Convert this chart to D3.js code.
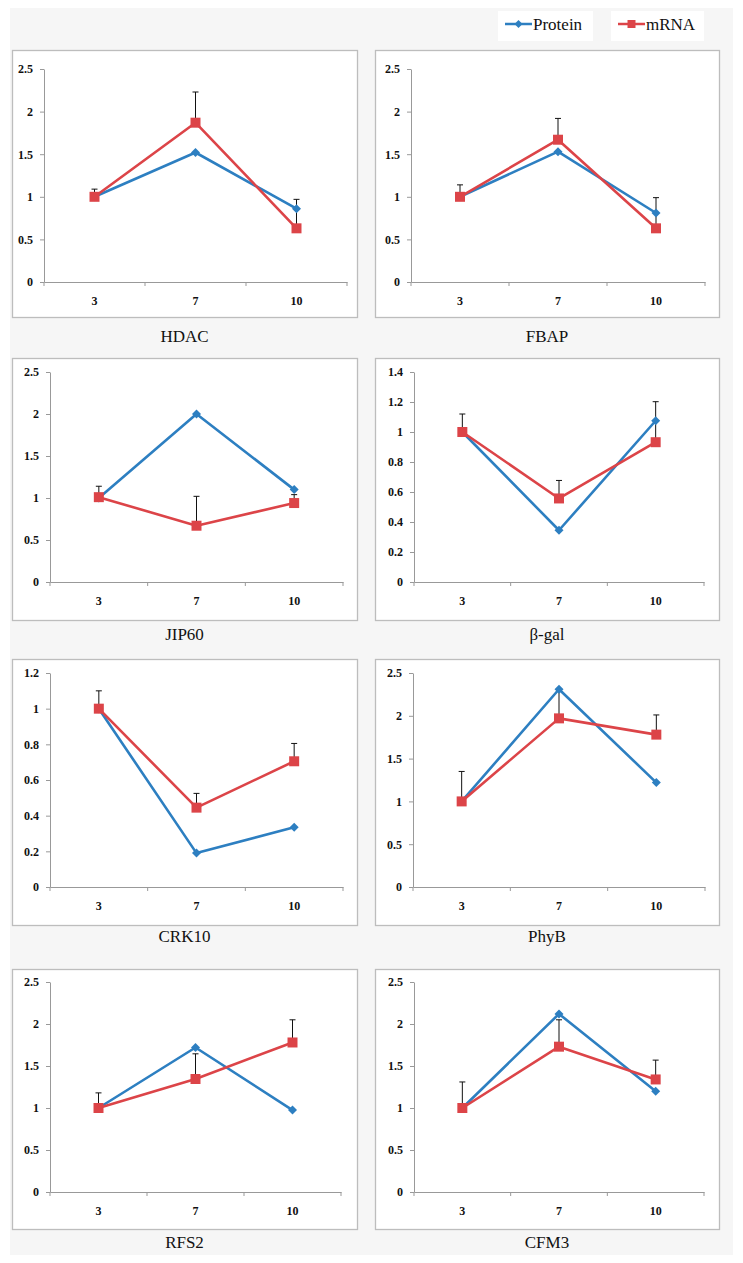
<!DOCTYPE html>
<html><head><meta charset="utf-8">
<script src="https://cdn.jsdelivr.net/npm/d3@7"></script>
<style>
html,body{margin:0;padding:0;background:#fff;}
svg{display:block;}
svg text{font-family:"Liberation Serif","Times New Roman",serif;}
</style></head>
<body>
<script>
// ---- data ----
const days = ["3", "7", "10"];
const genes = ["HDAC", "FBAP", "JIP60", "β-gal", "CRK10", "PhyB", "RFS2", "CFM3"];
const yMax = [2.5, 2.5, 2.5, 1.4, 1.2, 2.5, 2.5, 2.5];
const yStep = [0.5, 0.5, 0.5, 0.2, 0.2, 0.5, 0.5, 0.5];
const protein = [
  [1, 1.52, 0.86],
  [1, 1.53, 0.81],
  [1, 2.0, 1.10],
  [1, 0.345, 1.075],
  [1, 0.19, 0.335],
  [1, 2.31, 1.22],
  [1, 1.72, 0.975],
  [1, 2.12, 1.20]
];
const mrna = [
  [1, 1.87, 0.63],
  [1, 1.67, 0.63],
  [1.01, 0.67, 0.94],
  [1, 0.557, 0.932],
  [1, 0.445, 0.705],
  [1, 1.97, 1.78],
  [1, 1.345, 1.78],
  [1, 1.73, 1.34]
];
const mrnaErr = [
  [0.09, 0.36, 0.34],
  [0.14, 0.25, 0.36],
  [0.13, 0.35, 0.10],
  [0.12, 0.12, 0.27],
  [0.10, 0.08, 0.10],
  [0.35, 0.32, 0.23],
  [0.18, 0.30, 0.27],
  [0.31, 0.32, 0.23]
];
const seriesNames = ["Protein", "mRNA"];

// ---- layout ----
const W = 743, H = 1263;
const colPanelX0 = [12, 375], colPanelX1 = [357, 719];
const rowPanelY0 = [50, 358, 659, 969], rowPanelY1 = [317, 620, 925, 1229];
const rowPlotTop = [69, 372, 673, 982], rowZero = [282, 582, 887, 1192];
const rowTitleY = [337, 635, 937, 1243];
const axisX = [[44, 411], [50, 414], [50, 413], [50, 414]];
const axisXEnd = [[347, 705], [343, 704], [343, 705], [341, 704]];
const blue = "#2d7fc1", red = "#dc4448";
const serif = '"Liberation Serif","Times New Roman",serif';

const svg = d3.select("body").append("svg").attr("width", W).attr("height", H);
svg.append("rect").attr("x", 10).attr("y", 8).attr("width", 723).attr("height", 1247).attr("fill", "#f6f6f6");

const diamond = s => `M0,${-s}L${s},0L0,${s}L${-s},0Z`;

// legend
const legend = [
  {name: seriesNames[0], color: blue, x: 498, w: 95, mark: diamond(4)},
  {name: seriesNames[1], color: red, x: 611, w: 93, mark: d3.symbol(d3.symbolSquare, 64)()}
];
legend.forEach(l => {
  const g = svg.append("g").attr("transform", `translate(${l.x},11)`);
  g.append("rect").attr("width", l.w).attr("height", 30).attr("fill", "#fff");
  g.append("line").attr("x1", 7).attr("x2", 34).attr("y1", 13).attr("y2", 13)
    .attr("stroke", l.color).attr("stroke-width", 2.5);
  g.append("path").attr("d", l.mark).attr("transform", "translate(20.5,13)").attr("fill", l.color);
  g.append("text").attr("x", 35).attr("y", 19).text(l.name)
    .style("font-family", serif).attr("font-size", 17).attr("fill", "#111");
});

genes.forEach((gene, i) => {
  const row = Math.floor(i / 2), col = i % 2;
  const px0 = colPanelX0[col], px1 = colPanelX1[col];
  const py0 = rowPanelY0[row], py1 = rowPanelY1[row];
  svg.append("rect").attr("x", px0 + 0.5).attr("y", py0 + 0.5)
    .attr("width", px1 - px0).attr("height", py1 - py0)
    .attr("fill", "#fff").attr("stroke", "#bdbdbd").attr("stroke-width", 1.3);

  const ax = axisX[row][col], axEnd = axisXEnd[row][col];
  const x = d3.scaleBand().domain(days).range([ax, axEnd]).padding(0);
  const y = d3.scaleLinear().domain([0, yMax[i]]).range([rowZero[row], rowPlotTop[row]]);
  const ticks = d3.range(0, yMax[i] + yStep[i] / 2, yStep[i]).map(v => +v.toFixed(2));

  const g = svg.append("g");
  const yAxis = g.append("g").attr("transform", `translate(${ax},0)`)
    .call(d3.axisLeft(y).tickValues(ticks).tickSize(4).tickSizeOuter(0).tickPadding(7)
      .tickFormat(d => String(d)));
  const xAxis = g.append("g").attr("transform", `translate(0,${rowZero[row]})`)
    .call(d3.axisBottom(x).tickSize(0).tickPadding(14));
  const bounds = days.map(d => x(d)).concat([x(days[days.length - 1]) + x.bandwidth()]);
  g.selectAll(".xb").data(bounds).enter().append("line")
    .attr("x1", d => d).attr("x2", d => d).attr("y1", rowZero[row]).attr("y2", rowZero[row] + 4)
    .attr("stroke", "#999");
  [yAxis, xAxis].forEach(a => {
    a.attr("font-family", null);
    a.select(".domain").attr("stroke", "#999");
    a.selectAll(".tick line").attr("stroke", "#999");
    a.selectAll("text").style("font-family", serif).attr("font-weight", "bold")
      .attr("font-size", 12).attr("fill", "#111");
  });

  const cx = d => x(d) + x.bandwidth() / 2;
  const line = d3.line().x((v, k) => cx(days[k])).y(v => y(v));

  // error bars (mRNA, upward)
  mrna[i].forEach((v, k) => {
    const xx = cx(days[k]), top = y(v + mrnaErr[i][k]);
    g.append("line").attr("x1", xx).attr("x2", xx).attr("y1", y(v)).attr("y2", top)
      .attr("stroke", "#111").attr("stroke-width", 1);
    g.append("line").attr("x1", xx - 3).attr("x2", xx + 3).attr("y1", top).attr("y2", top)
      .attr("stroke", "#111").attr("stroke-width", 1);
  });

  g.append("path").datum(protein[i]).attr("d", line).attr("fill", "none")
    .attr("stroke", blue).attr("stroke-width", 2.6).attr("stroke-linejoin", "round");
  g.selectAll(".pm").data(protein[i]).enter().append("path")
    .attr("d", diamond(4.5))
    .attr("transform", (v, k) => `translate(${cx(days[k])},${y(v)})`).attr("fill", blue);

  g.append("path").datum(mrna[i]).attr("d", line).attr("fill", "none")
    .attr("stroke", red).attr("stroke-width", 2.6).attr("stroke-linejoin", "round");
  g.selectAll(".mm").data(mrna[i]).enter().append("path")
    .attr("d", d3.symbol(d3.symbolSquare, 100)())
    .attr("transform", (v, k) => `translate(${cx(days[k])},${y(v)})`).attr("fill", red);

  svg.append("text").attr("x", (px0 + px1) / 2).attr("y", rowTitleY[row] + 5)
    .attr("text-anchor", "middle").style("font-family", serif).attr("font-size", 17)
    .attr("fill", "#111").text(gene);
});
</script>
</body></html>
